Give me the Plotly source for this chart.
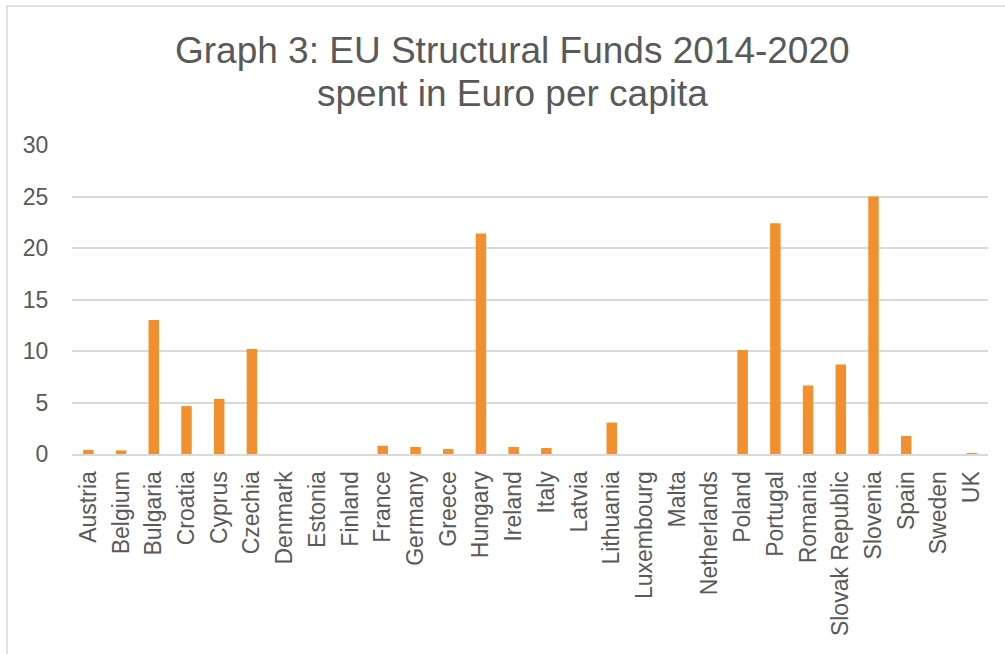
import plotly.graph_objects as go

# EU Structural Funds 2014-2020, spent in Euro per capita, by member state
countries = [
    "Austria", "Belgium", "Bulgaria", "Croatia", "Cyprus", "Czechia",
    "Denmark", "Estonia", "Finland", "France", "Germany", "Greece",
    "Hungary", "Ireland", "Italy", "Latvia", "Lithuania", "Luxembourg",
    "Malta", "Netherlands", "Poland", "Portugal", "Romania",
    "Slovak Republic", "Slovenia", "Spain", "Sweden", "UK",
]
euro_per_capita = [
    0.40, 0.35, 13.0, 4.65, 5.35, 10.2,
    0.0, 0.0, 0.0, 0.80, 0.68, 0.48,
    21.4, 0.68, 0.58, 0.0, 3.05, 0.0,
    0.0, 0.0, 10.1, 22.4, 6.65,
    8.7, 25.0, 1.75, 0.0, 0.03,
]
y_ticks = [0, 5, 10, 15, 20, 25, 30]
title_lines = ["Graph 3: EU Structural Funds 2014-2020", "spent in Euro per capita"]

BAR = "#F2902F"
TEXT = "#595959"
GRID = "#D9D9D9"
FONT = "Liberation Sans, Arial, sans-serif"

fig = go.Figure(
    go.Bar(
        x=countries,
        y=euro_per_capita,
        marker=dict(color=BAR, line=dict(width=0)),
    )
)

# two title lines placed separately for tighter line spacing
title_annotations = [
    dict(
        text=line,
        xref="paper",
        yref="paper",
        x=(512 - 72) / 916,
        y=yy,
        xanchor="center",
        yanchor="middle",
        showarrow=False,
        font=dict(family=FONT, size=37, color=TEXT),
    )
    for line, yy in zip(title_lines, [(454 - 50) / 309, (454 - 93) / 309])
]

fig.update_layout(
    width=1005,
    height=654,
    margin=dict(l=72, r=17, t=145, b=200),
    paper_bgcolor="white",
    plot_bgcolor="white",
    bargap=0.68,
    showlegend=False,
    font=dict(family=FONT, color=TEXT, size=23),
    annotations=title_annotations,
    xaxis=dict(
        type="category",
        tickangle=-90,
        showgrid=False,
        showline=True,
        linecolor=GRID,
        linewidth=2,
        ticks="outside",
        ticklen=6,
        tickcolor="rgba(0,0,0,0)",
        tickfont=dict(size=23, color=TEXT),
    ),
    yaxis=dict(
        range=[0, 30],
        tickvals=y_ticks,
        showgrid=True,
        gridcolor=GRID,
        gridwidth=1.5,
        zeroline=False,
        showline=False,
        ticks="outside",
        ticklen=18,
        tickcolor="rgba(0,0,0,0)",
        tickfont=dict(size=23, color=TEXT),
    ),
    shapes=[
        dict(
            type="rect",
            xref="paper",
            yref="paper",
            x0=(7 - 72) / 916,
            x1=1.2,
            y0=-1.0,
            y1=(454 - 6) / 309,
            line=dict(color=GRID, width=1.5),
            fillcolor="rgba(0,0,0,0)",
            layer="below",
        )
    ],
)

fig.write_html("out.html")
